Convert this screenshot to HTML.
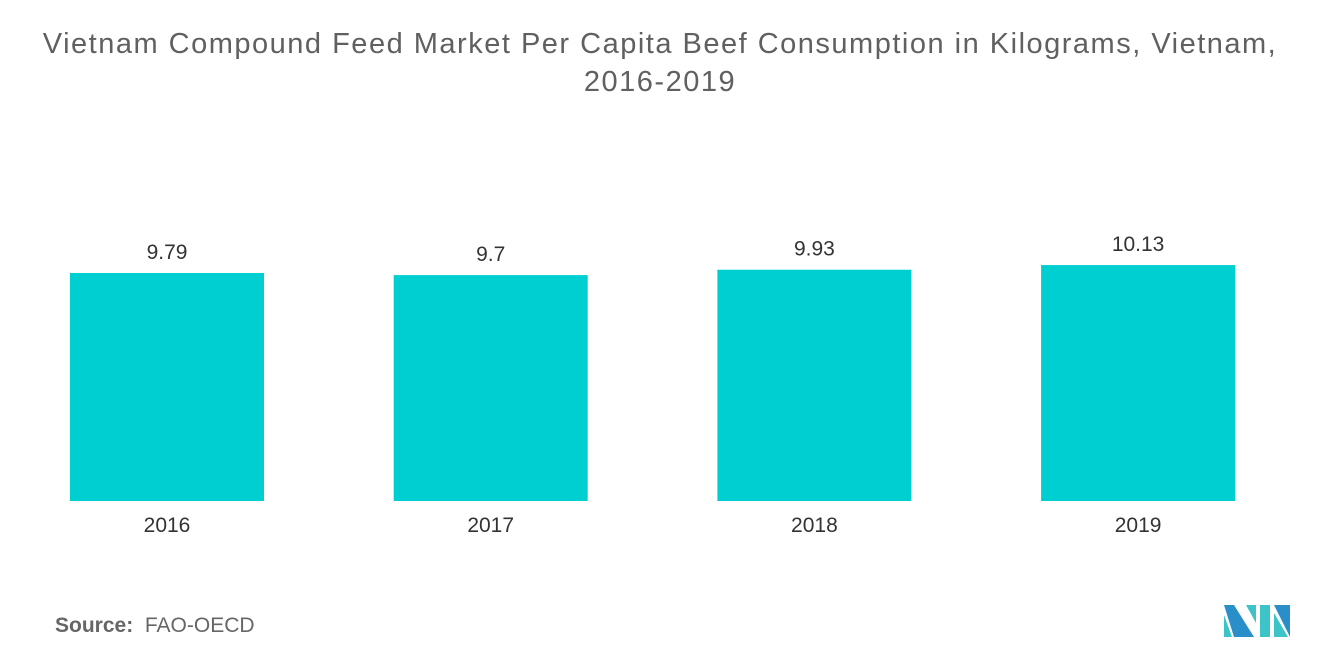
<!DOCTYPE html>
<html><head><meta charset="utf-8">
<style>
body{margin:0;width:1320px;height:665px;background:#fff;font-family:"Liberation Sans",sans-serif;overflow:hidden;position:relative}
#title{position:absolute;left:0;width:1320px;top:25px;text-align:center;font-size:29px;letter-spacing:1.5px;color:#606060;line-height:38px}
#src{position:absolute;left:55px;top:614px;font-size:21px;color:#666}
</style></head><body>
<div id="title">Vietnam Compound Feed Market Per Capita Beef Consumption in Kilograms, Vietnam,<br>2016-2019</div>
<svg id="chart" width="1320" height="665" style="position:absolute;left:0;top:0"></svg>
<div id="src"><b>Source:</b>&nbsp; FAO-OECD</div>
<svg width="70" height="36" style="position:absolute;left:1224px;top:603px" viewBox="0 0 70 36">
<polygon points="0,2 10,2 30,34 10,34" fill="#2a8fc9"/>
<polygon points="0,12 0,34 8,34" fill="#3cc4c8"/>
<polygon points="22,2 32,2 32,20" fill="#3cc4c8"/>
<polygon points="36,2 46,2 46,34 36,34" fill="#3cc4c8"/>
<polygon points="50,2 66,2 66,34" fill="#2a8fc9"/>
<polygon points="50,10 64,34 50,34" fill="#3cc4c8"/>
</svg>
<script>
const categories=["2016","2017","2018","2019"];
const values=[9.79,9.7,9.93,10.13];
const valueLabels=["9.79","9.7","9.93","10.13"];
const svg=document.getElementById('chart');
const NS='http://www.w3.org/2000/svg';
const baseY=501, scale=23.29, x0=70, step=323.7, bw=194;
const xPos=i=>x0+i*step;
const yPos=v=>baseY-v*scale;
categories.forEach((c,i)=>{
  const r=document.createElementNS(NS,'rect');
  r.setAttribute('x',xPos(i));r.setAttribute('y',yPos(values[i]));
  r.setAttribute('width',bw);r.setAttribute('height',baseY-yPos(values[i]));
  r.setAttribute('fill','#00cfd1');
  
  
  svg.appendChild(r);
  const t=document.createElementNS(NS,'text');
  t.setAttribute('x',xPos(i)+bw/2);t.setAttribute('y',yPos(values[i])-14);
  t.setAttribute('text-anchor','middle');t.setAttribute('font-size','21');t.setAttribute('fill','#333');
  t.textContent=valueLabels[i];
  
  
  svg.appendChild(t);
  const l=document.createElementNS(NS,'text');
  l.setAttribute('x',xPos(i)+bw/2);l.setAttribute('y',532);
  l.setAttribute('text-anchor','middle');l.setAttribute('font-size','21');l.setAttribute('fill','#333');
  l.textContent=c;
  
  
  svg.appendChild(l);
});
</script>
</body></html>
